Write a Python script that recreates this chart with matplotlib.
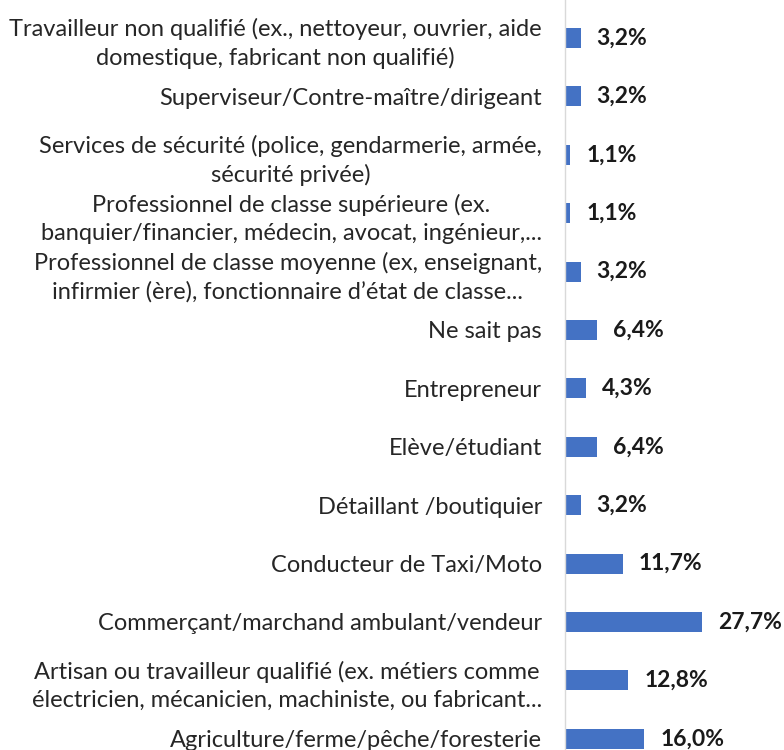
import matplotlib
matplotlib.use("Agg")
import matplotlib.pyplot as plt

labels = [
    "Travailleur non qualifié (ex., nettoyeur, ouvrier, aide\ndomestique, fabricant non qualifié)",
    "Superviseur/Contre-maître/dirigeant",
    "Services de sécurité (police, gendarmerie, armée,\nsécurité privée)",
    "Professionnel de classe supérieure (ex.\nbanquier/financier, médecin, avocat, ingénieur,...",
    "Professionnel de classe moyenne (ex, enseignant,\ninfirmier (ère), fonctionnaire d’état de classe...",
    "Ne sait pas",
    "Entrepreneur",
    "Elève/étudiant",
    "Détaillant /boutiquier",
    "Conducteur de Taxi/Moto",
    "Commerçant/marchand ambulant/vendeur",
    "Artisan ou travailleur qualifié (ex. métiers comme\nélectricien, mécanicien, machiniste, ou fabricant...",
    "Agriculture/ferme/pêche/foresterie",
]
values = [3.2, 3.2, 1.1, 1.1, 3.2, 6.4, 4.3, 6.4, 3.2, 11.7, 27.7, 12.8, 16.0]

plt.rcParams['font.family'] = ['Lato', 'DejaVu Sans']

fig = plt.figure(figsize=(7.84, 7.5), dpi=100)
ax = fig.add_axes([565 / 784, -18 / 750, 219 / 784, 768 / 750])

pos = list(range(len(values)))
ax.barh(pos, values, height=0.34, color="#4472C4")
ax.set_ylim(12.5, -0.65)
ax.set_xlim(0, 44.2)

for y, v in zip(pos, values):
    ax.text(v + 3.2, y, f"{v:.1f}%".replace(".", ","), va="center", ha="left",
            fontsize=16.5, fontweight="bold", color="#1a1a1a")

ax.set_yticks(pos)
ax.set_yticklabels(labels, fontsize=17, color="#262626", multialignment="center",
                   linespacing=1.4)
ax.tick_params(axis="y", length=0, pad=16.5)
ax.set_xticks([])
for s in ["top", "right", "bottom"]:
    ax.spines[s].set_visible(False)
ax.spines["left"].set_color("#D9D9D9")
ax.spines["left"].set_linewidth(1)

fig.savefig("out.png", dpi=100)
